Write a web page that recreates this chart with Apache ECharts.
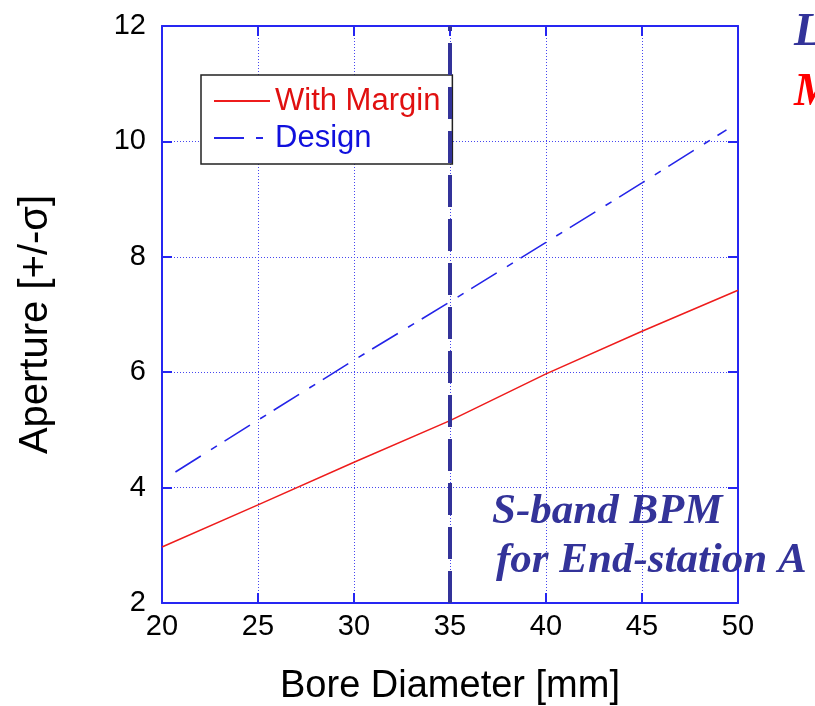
<!DOCTYPE html>
<html>
<head>
<meta charset="utf-8">
<script src="https://cdn.jsdelivr.net/npm/echarts@6/dist/echarts.min.js"></script>
<style>html,body{margin:0;padding:0;background:#fff;}#c{width:815px;height:706px;}</style>
</head>
<body>
<div id="c"></div>
<script>
// Data
const marginX = [20, 25, 30, 35, 40, 45, 50];
const marginY = [2.97, 3.70, 4.44, 5.16, 5.97, 6.71, 7.42];
const designX = [20.7, 25, 30, 35, 40, 45, 49.4];
const designY = [4.27, 5.17, 6.21, 7.22, 8.25, 9.28, 10.2];
const boreMarker = 35;
const seriesNames = ['With Margin', 'Design'];
const xTicks = [20, 25, 30, 35, 40, 45, 50];
const yTicks = [2, 4, 6, 8, 10, 12];

const pair = (xs, ys) => xs.map((x, i) => [x, ys[i]]);

const AX = '#2626f2';
const GRID = '#4646f0';
const SANS = '"Liberation Sans", Arial, sans-serif';
const SERIF = '"Liberation Serif", "Times New Roman", serif';

const chart = echarts.init(document.getElementById('c'), null, {renderer: 'canvas'});
const baseX = {
  type: 'value', min: xTicks[0], max: xTicks[xTicks.length - 1], interval: 5
};
const baseY = {
  type: 'value', min: yTicks[0], max: yTicks[yTicks.length - 1], interval: 2
};
chart.setOption({
  animation: false,
  backgroundColor: '#ffffff',
  grid: {left: 162, right: 77, top: 26, bottom: 103, containLabel: false, outerBoundsMode: 'none'},
  xAxis: [
    Object.assign({}, baseX, {
      position: 'bottom',
      name: 'Bore Diameter [mm]', nameLocation: 'middle', nameGap: 65,
      nameTextStyle: {fontFamily: SANS, fontSize: 38, color: '#000'},
      axisLine: {show: true, onZero: false, lineStyle: {color: AX, width: 2}},
      axisTick: {show: true, inside: true, length: 10, lineStyle: {color: AX, width: 2}},
      axisLabel: {fontFamily: SANS, fontSize: 29, color: '#000', margin: 9},
      splitLine: {show: true, lineStyle: {color: GRID, width: 1, type: [1, 2]}}
    }),
    Object.assign({}, baseX, {
      position: 'top',
      axisLine: {show: true, onZero: false, lineStyle: {color: AX, width: 2}},
      axisTick: {show: true, inside: true, length: 10, lineStyle: {color: AX, width: 2}},
      axisLabel: {show: false},
      splitLine: {show: false}
    })
  ],
  yAxis: [
    Object.assign({}, baseY, {
      position: 'left',
      name: 'Aperture [+/-σ]', nameLocation: 'middle', nameGap: 106,
      nameTextStyle: {fontFamily: SANS, fontSize: 40, color: '#000', padding: [0, 20, 0, 0]},
      axisLine: {show: true, onZero: false, lineStyle: {color: AX, width: 2}},
      axisTick: {show: true, inside: true, length: 10, lineStyle: {color: AX, width: 2}},
      axisLabel: {fontFamily: SANS, fontSize: 29, color: '#000', margin: 16},
      splitLine: {show: true, lineStyle: {color: GRID, width: 1, type: [1, 2]}}
    }),
    Object.assign({}, baseY, {
      position: 'right',
      axisLine: {show: true, onZero: false, lineStyle: {color: AX, width: 2}},
      axisTick: {show: true, inside: true, length: 10, lineStyle: {color: AX, width: 2}},
      axisLabel: {show: false},
      splitLine: {show: false}
    })
  ],
  legend: {
    orient: 'vertical',
    left: 201, top: 75,
    padding: [9, 12, 9, 12],
    itemGap: 3,
    itemWidth: 56, itemHeight: 14,
    backgroundColor: '#ffffff',
    borderColor: '#222',
    borderWidth: 1.5,
    borderRadius: 0,
    itemStyle: {opacity: 0},
    textStyle: {fontFamily: SANS, fontSize: 31, lineHeight: 34},
    data: [
      {name: seriesNames[0], textStyle: {color: '#e01010'}},
      {name: seriesNames[1], textStyle: {color: '#1010dd'}}
    ]
  },
  series: [
    {
      name: seriesNames[0], type: 'line', data: pair(marginX, marginY),
      showSymbol: false, symbol: 'none', smooth: false, z: 3,
      lineStyle: {color: '#ee1c1c', width: 1.5},
      itemStyle: {color: '#ee1c1c'}
    },
    {
      name: seriesNames[1], type: 'line', data: pair(designX, designY),
      showSymbol: false, symbol: 'none', smooth: false, z: 3,
      lineStyle: {color: '#2424e8', width: 1.6, type: [30, 12, 7, 9]},
      itemStyle: {color: '#2424e8'}
    },
    {
      name: 'marker', type: 'line', data: [], z: 10,
      markLine: {
        silent: true, symbol: ['none', 'none'], animation: false,
        label: {show: false},
        lineStyle: {color: '#333399', width: 4, type: [32, 12]},
        data: [{xAxis: boreMarker}]
      }
    }
  ],
  graphic: [
    {type: 'text', left: 794, top: 10, z: 20,
     style: {text: 'L', fontFamily: SERIF, fontSize: 46, fontStyle: 'italic', fontWeight: 'bold', fill: '#333399'}},
    {type: 'text', left: 794, top: 70, z: 20,
     style: {text: 'M', fontFamily: SERIF, fontSize: 46, fontStyle: 'italic', fontWeight: 'bold', fill: '#ff0000'}},
    {type: 'text', left: 492, top: 490, z: 20,
     style: {text: 'S-band BPM', fontFamily: SERIF, fontSize: 43, fontStyle: 'italic', fontWeight: 'bold', fill: '#333399'}},
    {type: 'text', left: 496, top: 539, z: 20,
     style: {text: 'for End-station A', fontFamily: SERIF, fontSize: 43, fontStyle: 'italic', fontWeight: 'bold', fill: '#333399'}}
  ]
});
</script>
</body>
</html>
